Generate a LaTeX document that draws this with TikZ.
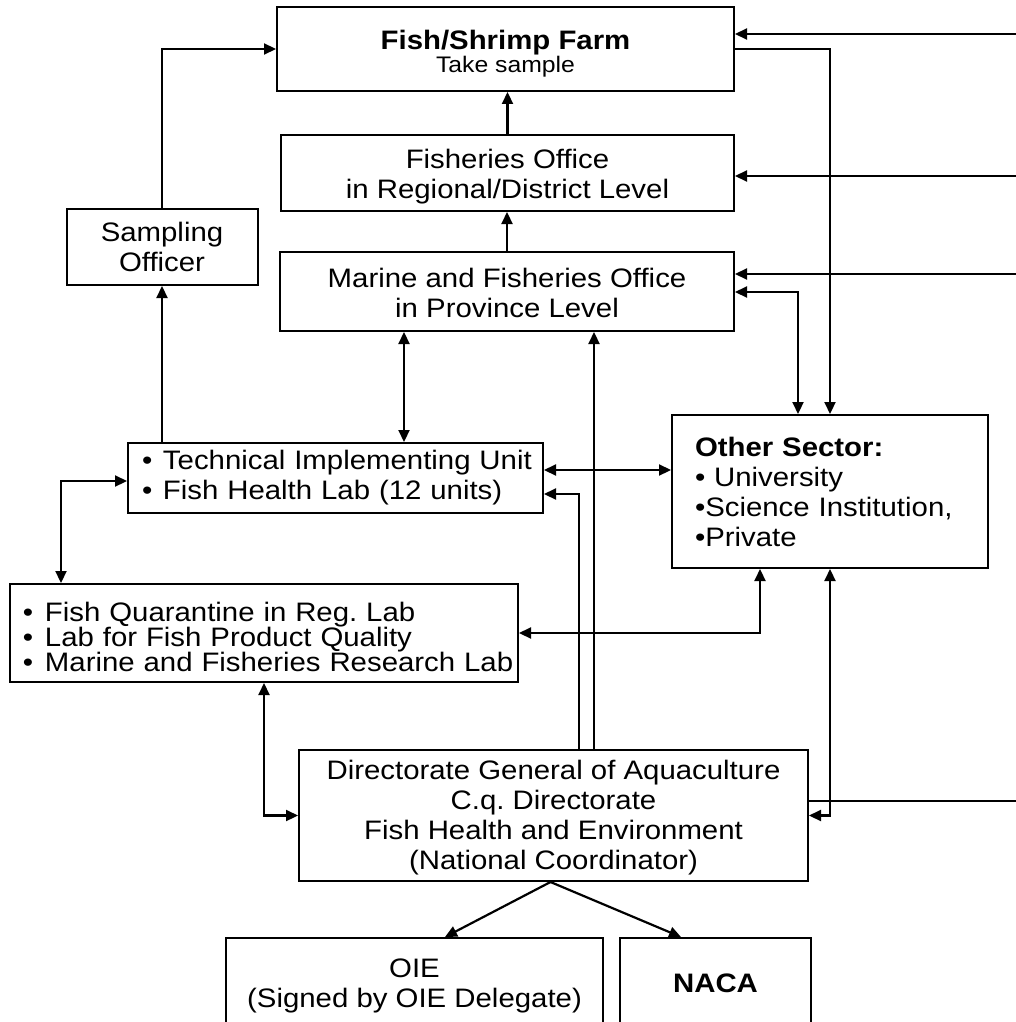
\documentclass[tikz,border=0pt]{standalone}
\usepackage{fontspec}
\setmainfont{Liberation Sans}[FakeStretch=1.1]
\usetikzlibrary{arrows.meta}
\frenchspacing
\newcommand\nsz{\fontsize{26.7}{30}\selectfont}
\newcommand\qsz{\fontsize{26.7}{25}\selectfont}
\newcommand\ssz{\fontsize{22.5}{21.5}\selectfont}
\newcommand\fsz{\fontsize{26.7}{21.5}\selectfont}
\begin{document}
\begin{tikzpicture}[x=1pt,y=-1pt,line width=2.2pt,
  >={Triangle[length=12pt,width=11pt]},
  box/.style={draw,line width=2pt,inner sep=0pt,font=\nsz,align=center},
  lbox/.style={box,align=left},
  arr/.style={->},
  darr/.style={<->}]
\useasboundingbox (0,0) rectangle (1016,1022);
\clip (0,0) rectangle (1016,1022);

% boxes
\node[box,font=\fsz,minimum width=457pt,minimum height=84pt] (farm) at (505.5,49)
  {\rule{0pt}{29pt}{\bfseries Fish/Shrimp Farm}\\{\ssz Take sample}};
\node[box,minimum width=453pt,minimum height=76pt] (fish) at (507.5,173)
  {\rule{0pt}{27pt}Fisheries Office\\in Regional/District Level};
\node[box,minimum width=454pt,minimum height=79pt] (marine) at (507,291.5)
  {\rule{0pt}{23pt}Marine and Fisheries Office\\in Province Level};
\node[box,minimum width=191pt,minimum height=76pt] (samp) at (162,247)
  {Sampling\\Officer};
\node[lbox,text width=415pt,minimum height=70pt] (tiu) at (335.5,478)
  {\hspace*{14pt}\makebox[21pt][l]{•}Technical Implementing Unit\\
   \hspace*{14pt}\makebox[21pt][l]{•}Fish Health Lab (12 units)};
\node[lbox,font=\qsz,text width=508pt,minimum height=98pt] (quar) at (264,633)
  {\rule{0pt}{28pt}\hspace*{13pt}\makebox[22pt][l]{•}Fish Quarantine in Reg. Lab\\
   \hspace*{13pt}\makebox[22pt][l]{•}Lab for Fish Product Quality\\
   \hspace*{13pt}\makebox[22pt][l]{•}Marine and Fisheries Research Lab};
\node[lbox,text width=316pt,minimum height=153pt] (other) at (830,491.5)
  {\hspace*{23pt}{\bfseries Other Sector:}\\
   \hspace*{23pt}• University\\
   \hspace*{23pt}•Science Institution,\\
   \hspace*{23pt}•Private};
\node[box,minimum width=509pt,minimum height=131pt] (dir) at (553.5,815.5)
  {\rule{0pt}{23pt}Directorate General of Aquaculture\\C.q. Directorate\\Fish Health and Environment\\(National Coordinator)};
\node[box,minimum width=377pt,minimum height=91pt] (oie) at (414.5,983.5)
  {\rule{0pt}{23pt}OIE\\(Signed by OIE Delegate)};
\node[box,minimum width=191pt,minimum height=91pt] (naca) at (715.5,983.5)
  {\bfseries NACA};

% helper coordinates
\coordinate (xa) at (404,0);
\coordinate (xb) at (798,0);
\coordinate (xd) at (579,0);
\coordinate (xe) at (594,0);
\coordinate (xf) at (61,0);
\coordinate (xg) at (760,0);
\coordinate (xl) at (445,0);
\coordinate (xr) at (681,0);
\coordinate (ya) at (0,292);
\coordinate (yb) at (0,470);
\coordinate (yc) at (0,494);
\coordinate (yd) at (0,481);
\coordinate (e1) at (1016,34);
\coordinate (e2) at (1016,176);
\coordinate (e3) at (1016,274);
\coordinate (e4) at (1016,801);

% connectors
\draw[arr] (samp.north) |- (farm.west);
\draw[arr] (fish.north) -- (fish.north |- farm.south);
\draw[arr] (marine.north) -- (marine.north |- fish.south);
\draw[arr] (tiu.north -| samp.south) -- (samp.south);
\draw[darr] (tiu.north -| xa) -- (marine.south -| xa);
\draw[arr] (e1) -- (farm.east |- e1);
\draw[arr] (e2) -- (fish.east |- e2);
\draw[arr] (e3) -- (marine.east |- e3);
\draw[darr] (marine.east |- ya) -| (other.north -| xb);
\draw[arr] (farm.east) -| (other.north);
\draw[darr] (tiu.east |- yb) -- (other.west |- yb);
\draw[arr] (dir.north -| xd) |- (tiu.east |- yc);
\draw[arr] (dir.north -| xe) -- (marine.south -| xe);
\draw[darr] (tiu.west |- yd) -| (quar.north -| xf);
\draw[darr] (quar.east) -| (other.south -| xg);
\draw[darr] (quar.south) |- (dir.west);
\draw[darr] (dir.east) -| (other.south);
\draw (dir.east |- e4) -- (e4);
\draw[arr] ([xshift=-3pt]dir.south) -- (oie.north -| xl);
\draw[arr] ([xshift=-3pt]dir.south) -- (naca.north -| xr);
\end{tikzpicture}
\end{document}
